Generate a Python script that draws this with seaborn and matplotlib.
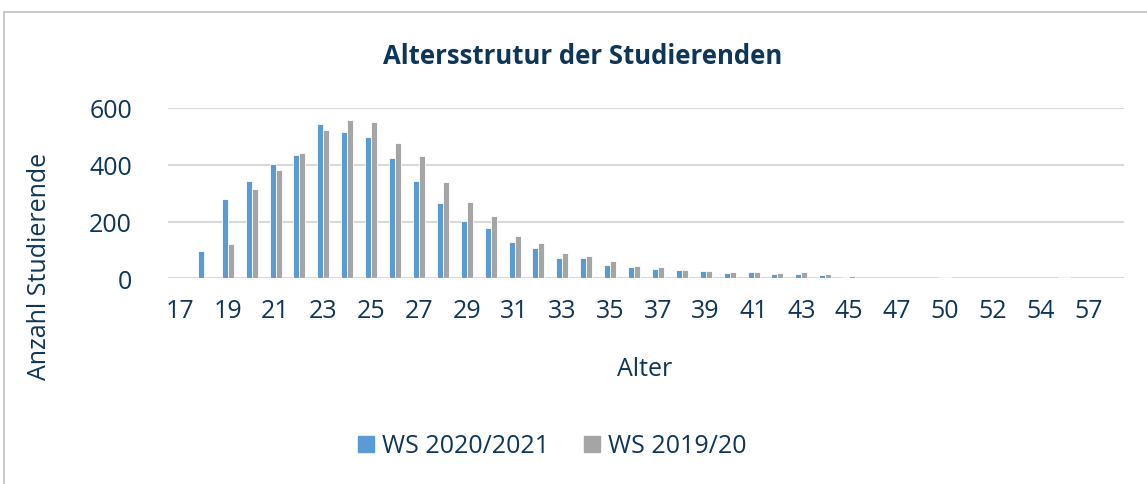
import matplotlib
matplotlib.use("Agg")
import matplotlib.pyplot as plt
import seaborn as sns
import pandas as pd
from matplotlib.lines import Line2D

ages = [17, 18, 19, 20, 21, 22, 23, 24, 25, 26, 27, 28, 29, 30, 31, 32, 33, 34, 35, 36,
        37, 38, 39, 40, 41, 42, 43, 44, 45, 46, 47, 48, 50, 51, 52, 53, 54, 56, 57, 60]
ws_2020 = [0, 96, 280, 343, 403, 433, 544, 514, 498, 423, 343, 265, 203, 176, 127, 106, 70, 70, 47, 41,
           33, 29, 26, 20, 21, 15, 15, 12, 5, 2, 0, 0, 3, 0, 0, 2, 0, 3, 0, 0]
ws_2019 = [0, 2, 121, 315, 383, 443, 524, 558, 550, 476, 431, 339, 269, 218, 149, 123, 89, 79, 60, 45,
           40, 29, 27, 21, 22, 19, 21, 14, 7, 2, 0, 0, 3, 0, 0, 2, 0, 3, 0, 0]
series = ["WS 2020/2021", "WS 2019/20"]
colors = ["#5B9BD5", "#A5A5A5"]
title = "Altersstrutur der Studierenden"
yticks = [0, 200, 400, 600]

TXT = "#0D3659"

sns.set_theme(style="white")
plt.rcParams["font.family"] = ["Open Sans", "DejaVu Sans"]

df = pd.DataFrame({
    "Alter": [str(a) for a in ages] * 2,
    "Anzahl": ws_2020 + ws_2019,
    "Semester": [series[0]] * len(ages) + [series[1]] * len(ages),
})

fig = plt.figure(figsize=(11.47, 4.85), dpi=100)
ax = fig.add_axes([168 / 1147, 1 - 279.3 / 485, (1124 - 168) / 1147, (279.3 - 109) / 485])

sns.barplot(data=df, x="Alter", y="Anzahl", hue="Semester", order=[str(a) for a in ages],
            hue_order=series, palette=colors, width=0.5, dodge=True, ax=ax,
            edgecolor="white", linewidth=0.6, legend=False, saturation=1)

ax.set_ylim(0, 600)
ax.set_xlim(-0.5, len(ages) - 0.5)
ax.set_yticks(yticks)
ax.set_yticklabels([str(v) for v in yticks], fontsize=18, color=TXT)
ax.set_xticks(range(0, len(ages), 2))
ax.set_xticklabels([str(a) for a in ages[::2]], fontsize=18, color=TXT)
ax.tick_params(axis="both", length=0, pad=14)
ax.tick_params(axis="y", pad=26)
for yv in yticks:
    ax.axhline(yv, color="#D9D9D9", lw=1.5, zorder=0)
for s in ax.spines.values():
    s.set_visible(False)
ax.set_xlabel("")
ax.set_ylabel("")

fig.text(583 / 1147, 1 - 57 / 485, title, ha="center", va="center", fontsize=18.5,
         fontweight="bold", color=TXT)
fig.text(645 / 1147, 1 - 370 / 485, "Alter", ha="center", va="center", fontsize=18, color=TXT)
fig.text(40 / 1147, 1 - 266 / 485, "Anzahl Studierende", ha="center", va="center", fontsize=18,
         color=TXT, rotation=90)

handles = [Line2D([0], [0], marker="s", linestyle="none", markersize=12,
                  markerfacecolor=c, markeredgecolor=c) for c in colors]
fig.legend(handles, series, loc="center", bbox_to_anchor=(551 / 1147, 1 - 447 / 485),
           ncol=2, frameon=False, fontsize=18, handlelength=0.8, handletextpad=0.25,
           columnspacing=1.3, labelcolor=TXT, borderaxespad=0)

# outer chart border (top and left visible)
fig.add_artist(Line2D([4 / 1147, 1.0], [1 - 13 / 485, 1 - 13 / 485], color="#C0C0C0", lw=1.2,
                      transform=fig.transFigure))
fig.add_artist(Line2D([4 / 1147, 4 / 1147], [0, 1 - 13 / 485], color="#C0C0C0", lw=1.2,
                      transform=fig.transFigure))

fig.savefig("out.png", dpi=100, facecolor="white")
